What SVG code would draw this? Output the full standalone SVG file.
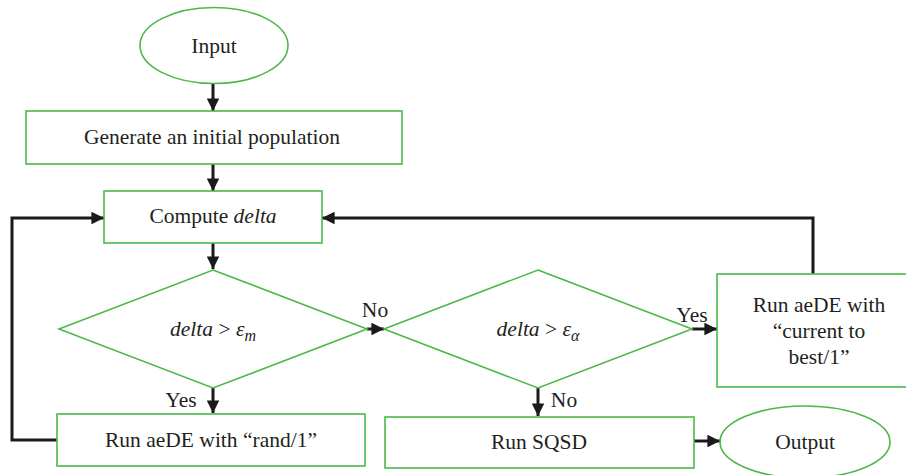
<svg xmlns="http://www.w3.org/2000/svg" width="906" height="475" viewBox="0 0 906 475">
<style>
.n{fill:#fff;stroke:#4db848;stroke-width:1.6}
.c{fill:none;stroke:#1a1a1a;stroke-width:3}
text{font-family:"Liberation Serif","Times New Roman",serif;font-size:21.5px;fill:#231f20;text-anchor:middle}
</style>
<defs>
<marker id="a" viewBox="0 0 10 10" refX="10" refY="5" markerWidth="4.2" markerHeight="4.2" markerUnits="strokeWidth" orient="auto"><path d="M0,0L10,5L0,10z" fill="#1a1a1a"/></marker>
</defs>
<g id="connectors">
<path class="c" d="M213,84V111" marker-end="url(#a)"/>
<path class="c" d="M213,164V191" marker-end="url(#a)"/>
<path class="c" d="M213,243V269" marker-end="url(#a)"/>
<path class="c" d="M213,388V413" marker-end="url(#a)"/>
<path class="c" d="M57,440H12V218H104" marker-end="url(#a)"/>
<path class="c" d="M367,329H384" marker-end="url(#a)"/>
<path class="c" d="M692,329H717" marker-end="url(#a)"/>
<path class="c" d="M813,274V218H322" marker-end="url(#a)"/>
<path class="c" d="M538,388V416" marker-end="url(#a)"/>
<path class="c" d="M694,441H720" marker-end="url(#a)"/>
<text x="181" y="407">Yes</text>
<text x="375" y="317">No</text>
<text x="692" y="322">Yes</text>
<text x="564" y="407">No</text>
</g>
<g id="input"><ellipse class="n" cx="214" cy="45.5" rx="74" ry="38"/><text x="214" y="53">Input</text></g>
<g id="generate"><rect class="n" x="26" y="111" width="376" height="53"/><text x="212" y="144">Generate an initial population</text></g>
<g id="compute"><rect class="n" x="104" y="191" width="218" height="52"/><text x="213" y="223">Compute <tspan font-style="italic">delta</tspan></text></g>
<g id="decision1"><path class="n" d="M213,270L367,329L213,388L59,329Z"/><text x="213" y="336"><tspan font-style="italic">delta</tspan> &gt; <tspan font-style="italic">ε</tspan><tspan font-style="italic" font-size="16" dy="5">m</tspan></text></g>
<g id="decision2"><path class="n" d="M538,270L692,329L538,388L384,329Z"/><text x="538" y="336"><tspan font-style="italic">delta</tspan> &gt; <tspan font-style="italic">ε</tspan><tspan font-style="italic" font-size="16" dy="5">α</tspan></text></g>
<g id="rand"><rect class="n" x="57" y="414" width="308" height="52"/><text x="211" y="447">Run aeDE with “rand/1”</text></g>
<g id="best"><rect class="n" x="717" y="274" width="200" height="113"/><text x="819" y="312">Run aeDE with</text><text x="819" y="338">“current to</text><text x="819" y="364">best/1”</text></g>
<g id="sqsd"><rect class="n" x="385" y="417" width="309" height="51"/><text x="539" y="449">Run SQSD</text></g>
<g id="output"><ellipse class="n" cx="805" cy="442" rx="85" ry="36"/><text x="805" y="449">Output</text></g>
</svg>
